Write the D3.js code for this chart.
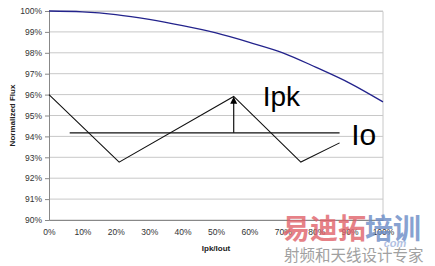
<!DOCTYPE html>
<html>
<head>
<meta charset="utf-8">
<script src="https://cdn.jsdelivr.net/npm/d3@7"></script>
<style>
  body { margin: 0; background: #fff; }
  text { font-family: "Liberation Sans", Arial, sans-serif; }
</style>
</head>
<body>
<svg id="chart"></svg>
<script>
// ratio Ipk/Iout (x) and normalized flux (y)
const ratio = [0, 0.1, 0.2, 0.3, 0.4, 0.5, 0.6, 0.7, 0.8, 0.9, 1.0];
const flux = [1.0, 0.9996, 0.9983, 0.996, 0.993, 0.9895, 0.985, 0.98, 0.973, 0.9655, 0.9565];

const xTicks = [0, 0.1, 0.2, 0.3, 0.4, 0.5, 0.6, 0.7, 0.8, 0.9, 1.0];
const yTicks = [0.90, 0.91, 0.92, 0.93, 0.94, 0.95, 0.96, 0.97, 0.98, 0.99, 1.0];

// ripple sketch drawn over the chart (data coords)
const rippleX = [0, 0.21, 0.553, 0.754, 0.87];
const rippleY = [0.96, 0.9277, 0.9591, 0.9277, 0.9369];
const ioLevel = 0.9417;
const ioRange = [0.062, 0.87];

const width = 435;
const height = 266;
const margin = { top: 11, right: 52, bottom: 46, left: 49 };
const w = width - margin.left - margin.right;
const h = height - margin.top - margin.bottom;

const x = d3.scaleLinear().domain([0, 1]).range([0, w]);
const y = d3.scaleLinear().domain([0.90, 1.0]).range([h, 0]);

const svg = d3.select('#chart')
  .attr('width', width)
  .attr('height', height);

svg.append('defs').append('marker')
  .attr('id', 'arrow')
  .attr('viewBox', '0 0 10 10')
  .attr('refX', 9).attr('refY', 5)
  .attr('markerWidth', 7).attr('markerHeight', 8)
  .attr('markerUnits', 'userSpaceOnUse')
  .attr('orient', 'auto')
  .append('path')
  .attr('d', 'M0,0 L10,5 L0,10 z')
  .attr('fill', '#000');

const chart = svg.append('g')
  .attr('transform', `translate(${margin.left}, ${margin.top})`);

// gridlines
chart.append('g')
  .selectAll('line')
  .data(yTicks)
  .enter().append('line')
  .attr('x1', 0).attr('x2', w)
  .attr('y1', d => y(d)).attr('y2', d => y(d))
  .attr('stroke', '#c8c8c8')
  .attr('stroke-width', 1);

// plot border (top/right)
chart.append('path')
  .attr('d', `M0,0.5 H${w} V${h}`)
  .attr('fill', 'none')
  .attr('stroke', '#c8c8c8');

const yAxis = chart.append('g')
  .call(d3.axisLeft(y).tickValues(yTicks).tickFormat(d3.format('.0%')).tickSize(4).tickPadding(3));

const xAxis = chart.append('g')
  .attr('transform', `translate(0, ${h})`)
  .call(d3.axisBottom(x).tickValues(xTicks).tickFormat(d3.format('.0%')).tickSize(0).tickPadding(9));

[yAxis, xAxis].forEach(a => {
  a.select('.domain').attr('stroke', '#888');
  a.selectAll('.tick line').attr('stroke', '#888');
  a.selectAll('.tick text')
    .attr('fill', '#333')
    .style('font-size', '8.5px');
});

// flux curve
chart.append('path')
  .datum(ratio.map((r, i) => [r, flux[i]]))
  .attr('fill', 'none')
  .attr('stroke', '#23238c')
  .attr('stroke-width', 1.3)
  .attr('d', d3.line().x(d => x(d[0])).y(d => y(d[1])).curve(d3.curveMonotoneX));

// ripple sketch
chart.append('path')
  .datum(rippleX.map((r, i) => [r, rippleY[i]]))
  .attr('fill', 'none')
  .attr('stroke', '#111')
  .attr('stroke-width', 1.1)
  .attr('d', d3.line().x(d => x(d[0])).y(d => y(d[1])));

chart.append('line')
  .attr('x1', x(ioRange[0])).attr('x2', x(ioRange[1]))
  .attr('y1', y(ioLevel)).attr('y2', y(ioLevel))
  .attr('stroke', '#111')
  .attr('stroke-width', 1.1);

chart.append('line')
  .attr('x1', x(rippleX[2])).attr('x2', x(rippleX[2]))
  .attr('y1', y(ioLevel)).attr('y2', y(rippleY[2]) + 1)
  .attr('stroke', '#111')
  .attr('stroke-width', 1.2)
  .attr('marker-end', 'url(#arrow)');

chart.append('text')
  .attr('x', x(0.64))
  .attr('y', y(0.9545))
  .style('font-size', '28px')
  .attr('fill', '#000')
  .text('Ipk');

chart.append('text')
  .attr('x', x(0.905))
  .attr('y', y(0.9357))
  .style('font-size', '30px')
  .attr('fill', '#000')
  .text('Io');

// axis titles
svg.append('text')
  .attr('transform', `translate(12, ${margin.top + h / 2}) rotate(-90)`)
  .attr('text-anchor', 'middle')
  .attr('dy', '0.35em')
  .style('font-size', '8px')
  .style('font-weight', 'bold')
  .attr('fill', '#222')
  .text('Normalized Flux');

svg.append('text')
  .attr('x', margin.left + w / 2)
  .attr('y', 251)
  .attr('text-anchor', 'middle')
  .style('font-size', '8px')
  .style('font-weight', 'bold')
  .attr('fill', '#222')
  .text('Ipk/Iout');

// watermark
const wm = svg.append('g').attr('opacity', 0.8);
wm.append('text')
  .attr('x', 395).attr('y', 247)
  .attr('text-anchor', 'middle')
  .style('font-size', '11px')
  .style('font-style', 'italic')
  .style('font-weight', 'bold')
  .attr('fill', '#9fb3dc')
  .text('com');
wm.append('text')
  .attr('x', 282).attr('y', 239)
  .style('font-family', '"Noto Sans CJK SC", sans-serif')
  .style('font-size', '28px')
  .style('font-weight', 'bold')
  .attr('fill', '#e0626a')
  .text('易迪拓');
wm.append('text')
  .attr('x', 365).attr('y', 239)
  .style('font-family', '"Noto Sans CJK SC", sans-serif')
  .style('font-size', '28px')
  .style('font-weight', 'bold')
  .attr('fill', '#6a8bc6')
  .text('培训');
wm.append('text')
  .attr('x', 284).attr('y', 261)
  .style('font-family', '"Noto Sans CJK SC", sans-serif')
  .style('font-size', '15.5px')
  .attr('fill', '#8a8a8a')
  .text('射频和天线设计专家');
</script>
</body>
</html>
